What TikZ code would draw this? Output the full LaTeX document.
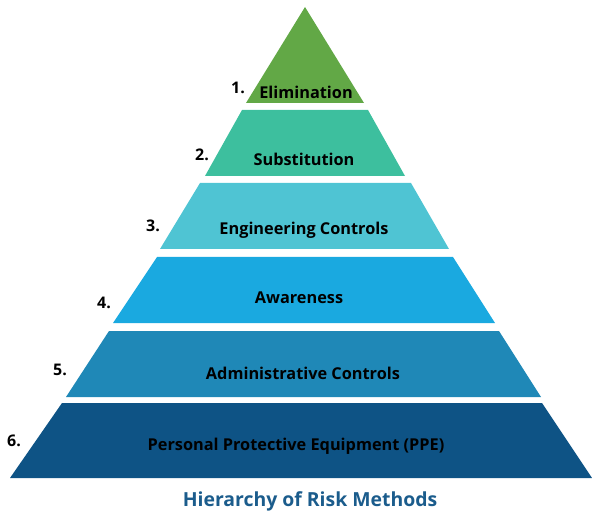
\documentclass[tikz,border=0pt]{standalone}
\usepackage{fontspec}
\setmainfont{Open Sans}
\definecolor{cA}{HTML}{62A846}
\definecolor{cB}{HTML}{3DBF9E}
\definecolor{cC}{HTML}{4FC4D3}
\definecolor{cD}{HTML}{1AA9E0}
\definecolor{cE}{HTML}{1F88B7}
\definecolor{cF}{HTML}{0E5385}
\definecolor{titleblue}{HTML}{1B5C8C}
\begin{document}
\begin{tikzpicture}[x=1pt,y=-1pt,
  lbl/.style={font=\bfseries\fontsize{16.3}{18}\selectfont, text=black, inner sep=0pt},
  num/.style={font=\bfseries\fontsize{16}{18}\selectfont, text=black, inner sep=0pt}]
\useasboundingbox (0,0) rectangle (592,513);
\fill[cA] (305,7) -- (364,103) -- (246,103) -- cycle;
\fill[cB] (242,110) -- (368,110) -- (405,176) -- (205,176) -- cycle;
\fill[cC] (200,183) -- (411,183) -- (449,249) -- (160,249) -- cycle;
\fill[cD] (157,257) -- (453,257) -- (495,323) -- (113,323) -- cycle;
\fill[cE] (109,331) -- (499,331) -- (541,397) -- (66,397) -- cycle;
\fill[cF] (62,403) -- (542,403) -- (592,478) -- (10,478) -- cycle;
\node[lbl] (l1) at (306,92) {Elimination};
\node[lbl] (l2) at (304,159) {Substitution};
\node[lbl] (l3) at (304,230) {Engineering Controls};
\node[lbl] (l4) at (299,298) {Awareness};
\node[lbl] (l5) at (303,373) {Administrative Controls};
\node[lbl] (l6) at (296,446) {Personal Protective Equipment (PPE)};
\node[num] (n1) at (238,88) {1.};
\node[num] (n2) at (202,155) {2.};
\node[num] (n3) at (153,226) {3.};
\node[num] (n4) at (104,303) {4.};
\node[num] (n5) at (60,370) {5.};
\node[num] (n6) at (14,441) {6.};
\node[font=\bfseries\fontsize{19.4}{22}\selectfont, text=titleblue, inner sep=0pt] (t) at (310,501) {Hierarchy of Risk Methods};
\end{tikzpicture}
\end{document}
